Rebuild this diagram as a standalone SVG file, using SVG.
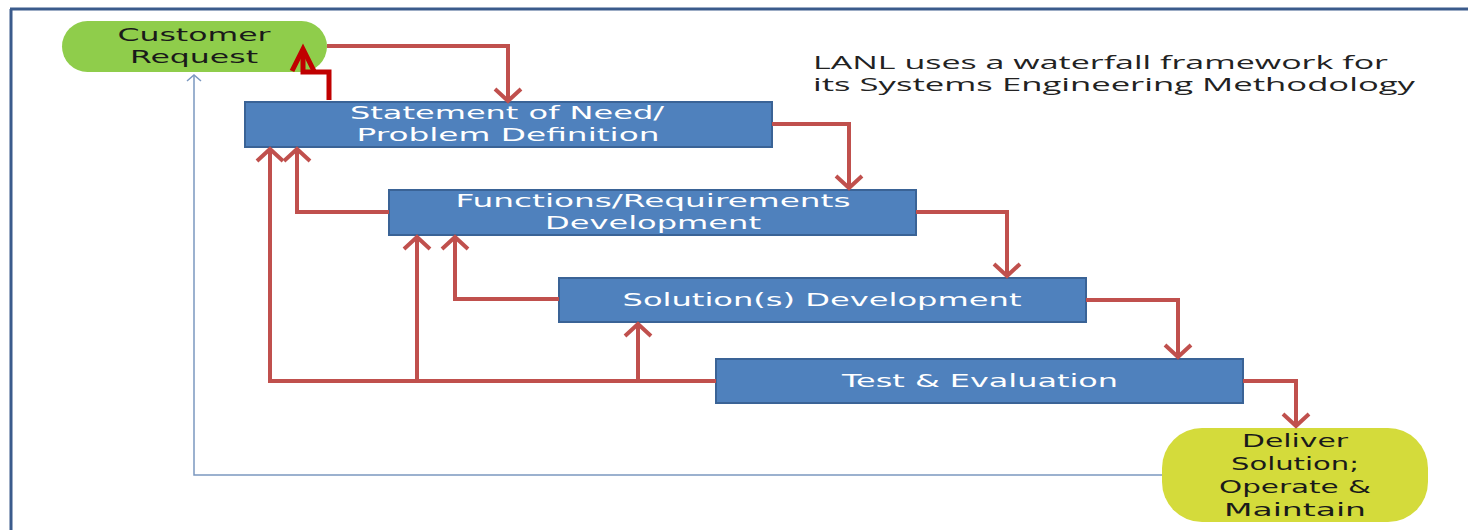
<svg xmlns="http://www.w3.org/2000/svg" width="1468" height="530" viewBox="0 0 1468 530">
  <style>
    .box { fill: #4f81bd; stroke: #3a6396; stroke-width: 2; }
    .btxt { font-family: "DejaVu Sans", Verdana, sans-serif; font-size: 18px; fill: #ffffff; text-anchor: middle; }
    .ptxt { font-family: "DejaVu Sans", Verdana, sans-serif; font-size: 18px; fill: #1a1a1a; text-anchor: middle; }
    .title { font-family: "Open Sans", "Liberation Sans", sans-serif; font-size: 18px; fill: #222222; }
    .red { fill: none; stroke: #c0504d; stroke-width: 4; stroke-linejoin: miter; }
    .dark { fill: none; stroke: #c00000; stroke-width: 5; stroke-linejoin: miter; }
    .thin { fill: none; stroke: #7b98c0; stroke-width: 1.5; }
    .frame { fill: none; stroke: #3b5b8c; stroke-width: 3; }
  </style>
  <defs>
    <marker id="arrRed" markerUnits="userSpaceOnUse" orient="auto" refX="0" refY="0" markerWidth="30" markerHeight="30" overflow="visible">
      <path d="M -12 -13 L 0 0 L -12 13" fill="none" stroke="#c0504d" stroke-width="4"/>
    </marker>
    <marker id="arrDark" markerUnits="userSpaceOnUse" orient="auto" refX="0" refY="0" markerWidth="30" markerHeight="30" overflow="visible">
      <path d="M -22 -11 L 0 0 L -22 11" fill="none" stroke="#c00000" stroke-width="5"/>
    </marker>
    <marker id="arrThin" markerUnits="userSpaceOnUse" orient="auto" refX="0" refY="0" markerWidth="20" markerHeight="20" overflow="visible">
      <path d="M -6 -7 L 0 0 L -6 7" fill="none" stroke="#7b98c0" stroke-width="1.5"/>
    </marker>
  </defs>

  <rect x="0" y="0" width="1468" height="530" fill="#ffffff"/>
  <path class="frame" d="M10 9 H1468 M11 9 V530"/>

  <g id="customer-request">
    <rect x="62" y="21" width="265" height="51" rx="25.5" ry="25.5" fill="#8fcd4b"/>
    <text class="ptxt" x="194" y="41" textLength="153" lengthAdjust="spacingAndGlyphs">Customer</text>
    <text class="ptxt" x="194" y="63" textLength="128" lengthAdjust="spacingAndGlyphs">Request</text>
  </g>

  <g id="statement">
    <rect class="box" x="245" y="102" width="527" height="45"/>
    <text class="btxt" x="507" y="119" textLength="314" lengthAdjust="spacingAndGlyphs">Statement of Need/</text>
    <text class="btxt" x="508" y="141" textLength="303" lengthAdjust="spacingAndGlyphs">Problem Definition</text>
  </g>

  <g id="functions">
    <rect class="box" x="389" y="190" width="527" height="45"/>
    <text class="btxt" x="653" y="207" textLength="395" lengthAdjust="spacingAndGlyphs">Functions/Requirements</text>
    <text class="btxt" x="653" y="229" textLength="216" lengthAdjust="spacingAndGlyphs">Development</text>
  </g>

  <g id="solution">
    <rect class="box" x="559" y="278" width="527" height="44"/>
    <text class="btxt" x="822" y="306" textLength="399" lengthAdjust="spacingAndGlyphs">Solution(s) Development</text>
  </g>

  <g id="test">
    <rect class="box" x="716" y="359" width="527" height="44"/>
    <text class="btxt" x="980" y="387" textLength="276" lengthAdjust="spacingAndGlyphs">Test &amp; Evaluation</text>
  </g>

  <g id="deliver">
    <rect x="1162" y="428" width="266" height="94" rx="40" ry="40" fill="#d4db3b"/>
    <text class="ptxt" x="1295" y="447" textLength="106" lengthAdjust="spacingAndGlyphs">Deliver</text>
    <text class="ptxt" x="1295" y="470" textLength="128" lengthAdjust="spacingAndGlyphs">Solution;</text>
    <text class="ptxt" x="1295" y="493" textLength="152" lengthAdjust="spacingAndGlyphs">Operate &amp;</text>
    <text class="ptxt" x="1295" y="516" textLength="142" lengthAdjust="spacingAndGlyphs">Maintain</text>
  </g>

  <g id="note">
    <text class="title" x="813" y="69" textLength="575" lengthAdjust="spacingAndGlyphs">LANL uses a waterfall framework for</text>
    <text class="title" x="813" y="91" textLength="602" lengthAdjust="spacingAndGlyphs">its Systems Engineering Methodology</text>
  </g>

  <g id="connectors">
    <path class="thin" d="M1162 475 H194 V75" marker-end="url(#arrThin)"/>
    <path class="red" d="M327 46 H508 V101" marker-end="url(#arrRed)"/>
    <path class="red" d="M772 124 H849 V188" marker-end="url(#arrRed)"/>
    <path class="red" d="M916 212 H1007 V276" marker-end="url(#arrRed)"/>
    <path class="red" d="M1086 300 H1178 V357" marker-end="url(#arrRed)"/>
    <path class="red" d="M1243 381 H1296 V426" marker-end="url(#arrRed)"/>
    <path class="red" d="M389 212 H297 V149" marker-end="url(#arrRed)"/>
    <path class="red" d="M716 381 H270 V149" marker-end="url(#arrRed)"/>
    <path class="red" d="M417 381 V237" marker-end="url(#arrRed)"/>
    <path class="red" d="M638 381 V324" marker-end="url(#arrRed)"/>
    <path class="red" d="M559 299 H455 V237" marker-end="url(#arrRed)"/>
    <path class="dark" d="M329 100 V72 H303 V49" marker-end="url(#arrDark)"/>
  </g>
</svg>
